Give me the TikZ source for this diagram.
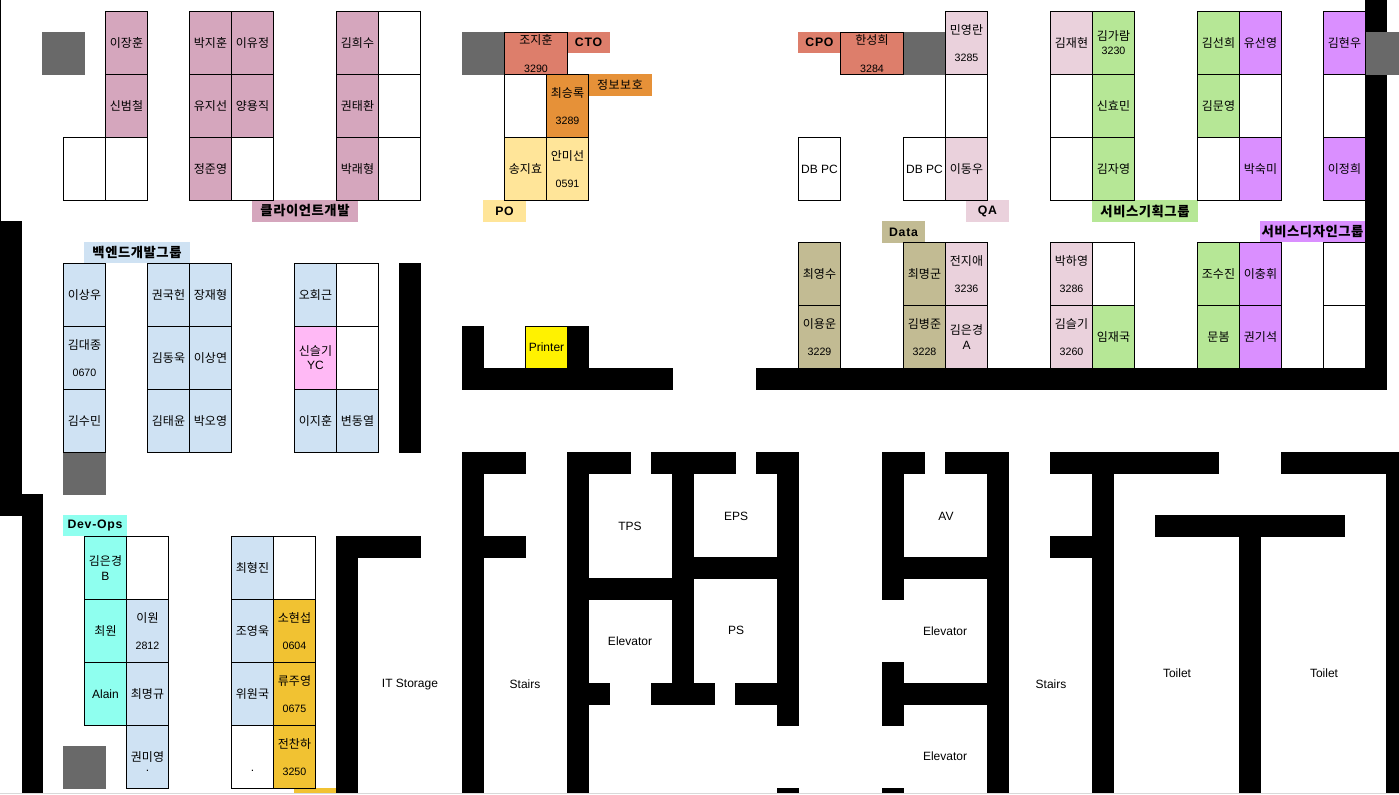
\documentclass[tikz,border=0pt]{standalone}
\usepackage{fontspec}
\setmainfont{Liberation Sans}
\newfontfamily\kr{Noto Sans CJK KR}
\newfontfamily\krsp[LetterSpace=4]{Noto Sans CJK KR}
\newfontfamily\lat{Liberation Sans}
\newfontfamily\latsp[LetterSpace=6]{Liberation Sans}
\definecolor{cpink}{HTML}{D5A6BD}
\definecolor{cblue}{HTML}{CFE2F3}
\definecolor{csalmon}{HTML}{DD7E6B}
\definecolor{corange}{HTML}{E69138}
\definecolor{cyell}{HTML}{FFE599}
\definecolor{cpale}{HTML}{EAD1DC}
\definecolor{cgreen}{HTML}{B6E796}
\definecolor{cpurple}{HTML}{DA8FFF}
\definecolor{ctan}{HTML}{C2BB93}
\definecolor{cgold}{HTML}{F1C232}
\definecolor{ccyan}{HTML}{8FFFEF}
\definecolor{crose}{HTML}{FFB9F5}
\definecolor{cgray}{HTML}{696969}
\newcounter{seatno}
\newcounter{labno}
\newcommand{\fnum}{\lat\fontsize{8pt}{10pt}\selectfont}
\newcommand{\flatin}{\lat\fontsize{9pt}{10pt}\selectfont}
% options, x, y, colour, text
\newcommand{\seat}[5][]{\stepcounter{seatno}\node[seatbox,fill=#4,#1] (s\theseatno) at (#2,#3) {#5};}
% x1, y1, x2, y2, colour, font, text
\newcommand{\grp}[7]{\stepcounter{labno}\node[grpbox,fill=#5,minimum width=#3*0.75pt-#1*0.75pt,minimum height=#4*0.75pt-#2*0.75pt,font=#6] (g\thelabno) at ({(#1+#3)/2},{(#2+#4)/2}) {#7};}
\newcommand{\wall}[4]{\fill[wallfill] (#1,#2) rectangle (#3,#4);}
\newcommand{\gbox}[4]{\fill[cgray] (#1,#2) rectangle (#3,#4);}
\newcommand{\twowide}[2]{#1\\[10.6pt]{\fnum #2}}
\newcommand{\twotight}[2]{#1\\[0.6pt]{\flatin #2}}
\newcommand{\fkrb}{\krsp\bfseries\fontsize{10pt}{10pt}\selectfont}
\newcommand{\flab}{\latsp\bfseries\fontsize{9.2pt}{10pt}\selectfont}
\begin{document}
\begin{tikzpicture}[x=0.75pt,y=-0.75pt,
  seatbox/.style={draw=black,line width=0.75pt,anchor=north west,minimum width=31.5pt,minimum height=47.25pt,inner sep=0pt,outer sep=0pt,align=center,font=\kr\fontsize{9pt}{10pt}\selectfont},
  grpbox/.style={inner sep=0pt,outer sep=0pt,align=center},
  wallfill/.style={fill=black},
  room/.style={inner sep=0pt,font=\flatin}]
\useasboundingbox (0,0) rectangle (1399,795);
\fill[white] (0,0) rectangle (1399,795);
\fill[black!15] (0,793) rectangle (1399,794);

% walls
\wall{0}{0}{1}{221}
\wall{0}{221}{22}{516}
\wall{22}{494}{43}{793}
\wall{399}{263}{421}{453}
\wall{336}{536}{358}{793}
\wall{336}{536}{421}{558}
\wall{462}{326}{484}{390}
\wall{462}{368}{673}{390}
\wall{567}{326}{589}{390}
\wall{756}{368}{1387}{390}
\wall{1365}{0}{1387}{390}
\wall{462}{452}{484}{793}
\wall{462}{452}{526}{474}
\wall{462}{536}{526}{558}
\wall{567}{452}{589}{793}
\wall{567}{452}{631}{474}
\wall{651}{452}{736}{474}
\wall{756}{452}{799}{474}
\wall{672}{452}{694}{705}
\wall{777}{452}{799}{726}
\wall{567}{578}{672}{600}
\wall{694}{557}{799}{579}
\wall{567}{683}{610}{705}
\wall{651}{683}{715}{705}
\wall{735}{683}{799}{705}
\wall{777}{788}{799}{793}
\wall{882}{452}{904}{600}
\wall{882}{662}{904}{726}
\wall{882}{788}{904}{793}
\wall{882}{452}{925}{474}
\wall{945}{452}{1009}{474}
\wall{987}{452}{1009}{793}
\wall{904}{557}{987}{579}
\wall{882}{683}{987}{705}
\wall{1050}{452}{1219}{474}
\wall{1092}{452}{1114}{793}
\wall{1050}{536}{1092}{558}
\wall{1155}{515}{1345}{537}
\wall{1239}{515}{1261}{793}
\wall{1281}{452}{1399}{474}
\wall{1386}{452}{1399}{793}
\fill[cgold] (294,788) rectangle (336,793);

% gray blocks
\gbox{42}{32}{85}{75}
\gbox{462}{32}{504}{75}
\gbox{903}{32}{945}{75}
\gbox{1365}{32}{1399}{75}
\gbox{63}{452}{106}{495}
\gbox{63}{746}{106}{789}

% room names
\node[room] (r1) at (410,685) {IT Storage};
\node[room] (r2) at (525,684) {Stairs};
\node[room] (r3) at (630,526) {TPS};
\node[room] (r4) at (736,516) {EPS};
\node[room] (r5) at (630,641) {Elevator};
\node[room] (r6) at (736,630) {PS};
\node[room] (r7) at (946,516) {AV};
\node[room] (r8) at (945,631) {Elevator};
\node[room] (r9) at (945,756) {Elevator};
\node[room] (r10) at (1051,684) {Stairs};
\node[room] (r11) at (1177,673) {Toilet};
\node[room] (r12) at (1324,673) {Toilet};

% group labels
\grp{252}{200}{358}{222}{cpink}{\fkrb}{클라이언트개발}
\grp{84}{242}{190}{263}{cblue}{\fkrb}{백엔드개발그룹}
\grp{63}{515}{127}{536}{ccyan}{\flab}{Dev-Ops}
\grp{567}{32}{610}{53}{csalmon}{\flab}{CTO}
\grp{588}{74}{652}{96}{corange}{\krsp\fontsize{9pt}{10pt}\selectfont}{정보보호}
\grp{483}{200}{526}{222}{cyell}{\flab}{PO}
\grp{798}{32}{841}{53}{csalmon}{\flab}{CPO}
\grp{966}{200}{1009}{222}{cpale}{\flab}{QA}
\grp{882}{221}{925}{243}{ctan}{\flab}{Data}
\grp{1092}{200}{1198}{222}{cgreen}{\fkrb}{서비스기획그룹}
\grp{1260}{221}{1365}{242}{cpurple}{\fkrb}{서비스디자인그룹}

\begin{scope}[shift={(0.5,0.5)}]
% client block
\seat{105}{11}{cpink}{이장훈}
\seat{105}{74}{cpink}{신범철}
\seat{63}{137}{white}{}
\seat{105}{137}{white}{}
\seat{189}{11}{cpink}{박지훈}
\seat{231}{11}{cpink}{이유정}
\seat{189}{74}{cpink}{유지선}
\seat{231}{74}{cpink}{양용직}
\seat{189}{137}{cpink}{정준영}
\seat{231}{137}{white}{}
\seat{336}{11}{cpink}{김희수}
\seat{378}{11}{white}{}
\seat{336}{74}{cpink}{권태환}
\seat{378}{74}{white}{}
\seat{336}{137}{cpink}{박래형}
\seat{378}{137}{white}{}
% CTO block
\seat[minimum width=47.25pt,minimum height=31.5pt]{504}{32}{csalmon}{\twowide{조지훈}{3290}}
\seat{504}{74}{white}{}
\seat{546}{74}{corange}{\twowide{최승록}{3289}}
\seat{504}{137}{cyell}{송지효}
\seat{546}{137}{cyell}{\twowide{안미선}{0591}}
\seat[minimum height=31.5pt]{525}{326}{yellow}{\flatin Printer}
% CPO block
\seat[minimum width=47.25pt,minimum height=31.5pt]{840}{32}{csalmon}{\twowide{한성희}{3284}}
\seat{945}{11}{cpale}{\twowide{민영란}{3285}}
\seat{945}{74}{white}{}
\seat{945}{137}{cpale}{이동우}
\seat{903}{137}{white}{\flatin DB PC}
\seat{798}{137}{white}{\flatin DB PC}
% service planning
\seat{1050}{11}{cpale}{김재현}
\seat{1092}{11}{cgreen}{\twotight{김가람}{\fnum 3230}}
\seat{1050}{74}{white}{}
\seat{1092}{74}{cgreen}{신효민}
\seat{1050}{137}{white}{}
\seat{1092}{137}{cgreen}{김자영}
\seat{1197}{11}{cgreen}{김선희}
\seat{1239}{11}{cpurple}{유선영}
\seat{1197}{74}{cgreen}{김문영}
\seat{1239}{74}{white}{}
\seat{1197}{137}{white}{}
\seat{1239}{137}{cpurple}{박숙미}
\seat{1323}{11}{cpurple}{김현우}
\seat{1323}{74}{white}{}
\seat{1323}{137}{cpurple}{이정희}
% lower right row
\seat{798}{242}{ctan}{최영수}
\seat{798}{305}{ctan}{\twowide{이용운}{3229}}
\seat{903}{242}{ctan}{최명군}
\seat{945}{242}{cpale}{\twowide{전지애}{3236}}
\seat{903}{305}{ctan}{\twowide{김병준}{3228}}
\seat{945}{305}{cpale}{\twotight{김은경}{A}}
\seat{1050}{242}{cpale}{\twowide{박하영}{3286}}
\seat{1092}{242}{white}{}
\seat{1050}{305}{cpale}{\twowide{김슬기}{3260}}
\seat{1092}{305}{cgreen}{임재국}
\seat{1197}{242}{cgreen}{조수진}
\seat{1239}{242}{cpurple}{이충휘}
\seat{1197}{305}{cgreen}{문봄}
\seat{1239}{305}{cpurple}{권기석}
\seat{1323}{242}{white}{}
\seat{1323}{305}{white}{}
% backend
\seat{63}{263}{cblue}{이상우}
\seat{63}{326}{cblue}{\twowide{김대종}{0670}}
\seat{63}{389}{cblue}{김수민}
\seat{147}{263}{cblue}{권국헌}
\seat{189}{263}{cblue}{장재형}
\seat{147}{326}{cblue}{김동욱}
\seat{189}{326}{cblue}{이상연}
\seat{147}{389}{cblue}{김태윤}
\seat{189}{389}{cblue}{박오영}
\seat{294}{263}{cblue}{오회근}
\seat{336}{263}{white}{}
\seat{294}{326}{crose}{\twotight{신슬기}{YC}}
\seat{336}{326}{white}{}
\seat{294}{389}{cblue}{이지훈}
\seat{336}{389}{cblue}{변동열}
% dev-ops
\seat{84}{536}{ccyan}{\twotight{김은경}{B}}
\seat{126}{536}{white}{}
\seat{84}{599}{ccyan}{최원}
\seat{126}{599}{cblue}{\twowide{이원}{2812}}
\seat{84}{662}{ccyan}{\flatin Alain}
\seat{126}{662}{cblue}{최명규}
\seat{126}{725}{cblue}{권미영}
\node[room] (dot1) at (147,770) {.};
\seat{231}{536}{cblue}{최형진}
\seat{273}{536}{white}{}
\seat{231}{599}{cblue}{조영욱}
\seat{273}{599}{cgold}{\twowide{소현섭}{0604}}
\seat{231}{662}{cblue}{위원국}
\seat{273}{662}{cgold}{\twowide{류주영}{0675}}
\seat{231}{725}{white}{}
\node[room] (dot2) at (252,770) {.};
\seat{273}{725}{cgold}{\twowide{전찬하}{3250}}
\end{scope}
\end{tikzpicture}
\end{document}
